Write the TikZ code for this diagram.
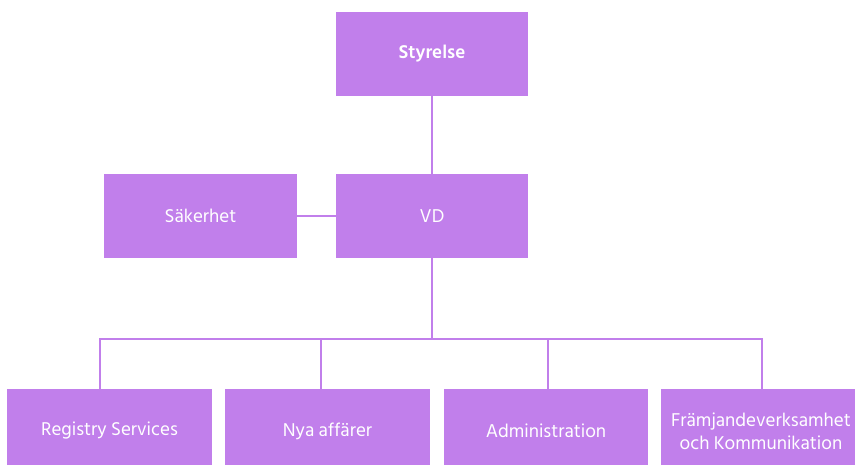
\documentclass[tikz,border=0pt]{standalone}
\usepackage{fontspec}
\setmainfont{Hind Siliguri}
\definecolor{boxpurple}{HTML}{C17FEB}
\begin{document}
\begin{tikzpicture}[x=1pt,y=-1pt,
  orgbox/.style={fill=boxpurple,draw=none,inner sep=0pt,text=white,font=\fontsize{19}{23}\selectfont,align=center},
  link/.style={draw=boxpurple,line width=2pt}]
\useasboundingbox (0,0) rectangle (855,465);
\node[orgbox,minimum width=192pt,minimum height=84pt,font=\fontsize{19}{23}\selectfont\bfseries] (sty) at (432,54) {Styrelse};
\node[orgbox,minimum width=192pt,minimum height=84pt] (vd) at (432,216) {VD};
\node[orgbox,minimum width=193pt,minimum height=84pt] (sak) at (200.5,216) {Säkerhet};
\node[orgbox,minimum width=205pt,minimum height=84pt] (reg) at (109.5,431) {Registry Services};
\node[orgbox,minimum width=205pt,minimum height=84pt] (nya) at (327.5,431) {Nya affärer};
\node[orgbox,minimum width=204pt,minimum height=84pt] (adm) at (546,431) {Administration};
\node[orgbox,minimum width=200pt,minimum height=84pt] (fra) at (761,431) {Främjandeverksamhet\\och Kommunikation};
\coordinate (bus) at (432,339);
\draw[link] (sty.south) -- (vd.north);
\draw[link] (sak.east) -- (vd.west);
\draw[link] (vd.south) -- (bus);
\draw[link] (reg.north -| 100,0) |- (bus) -| (fra.north -| 762,0);
\draw[link] (nya.north -| 321,0) -- (321,339);
\draw[link] (adm.north -| 548,0) -- (548,339);
\end{tikzpicture}
\end{document}
